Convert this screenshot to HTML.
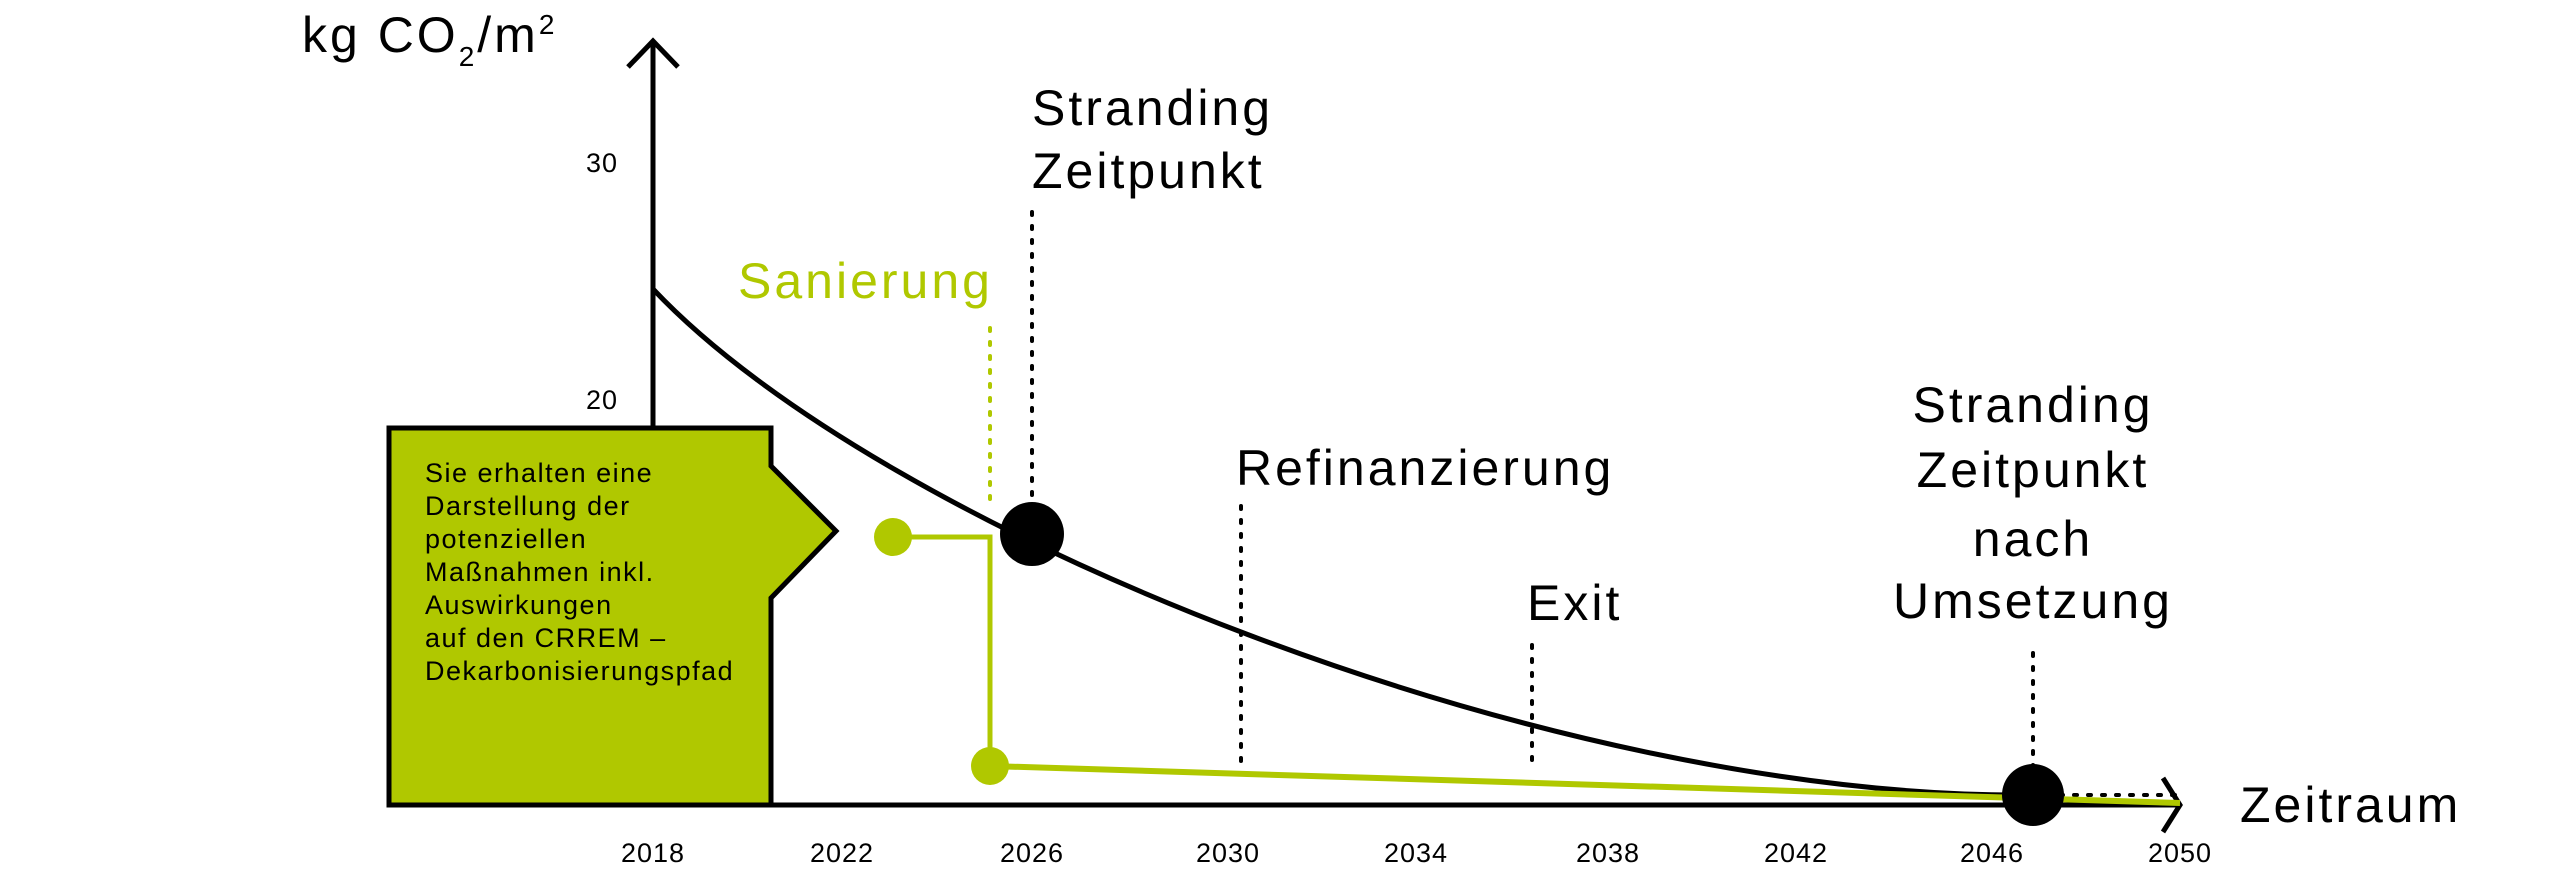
<!DOCTYPE html>
<html><head><meta charset="utf-8"><style>
html,body{margin:0;padding:0;background:#fff;}
body{width:2560px;height:865px;overflow:hidden;font-family:"Liberation Sans",sans-serif;}
</style></head><body>
<svg width="2560" height="865" viewBox="0 0 2560 865" xmlns="http://www.w3.org/2000/svg" font-family="Liberation Sans, sans-serif">
<path d="M389,428 H771 V466 L836,531 L771,598 V805 H389 Z" fill="#b0c800" stroke="#000" stroke-width="5"/>
<line x1="653" y1="41" x2="653" y2="428" stroke="#000" stroke-width="5"/>
<polyline points="628,67 653,41 678,67" fill="none" stroke="#000" stroke-width="5"/>
<line x1="771" y1="805" x2="2180" y2="805" stroke="#000" stroke-width="5"/>
<polyline points="2163,778 2180,805 2163,832" fill="none" stroke="#000" stroke-width="5"/>
<path d="M653,289 C880,530 1550,800 2033,795" fill="none" stroke="#000" stroke-width="5"/>
<g stroke="#000" stroke-width="4" stroke-dasharray="3,11" stroke-linecap="round">
<line x1="1032" y1="212" x2="1032" y2="500"/>
<line x1="1241" y1="506" x2="1241" y2="767"/>
<line x1="1532" y1="645" x2="1532" y2="767"/>
<line x1="2033" y1="653" x2="2033" y2="767"/>
<line x1="2060" y1="795" x2="2175" y2="795"/>
</g>
<line x1="990" y1="328" x2="990" y2="506" stroke="#b0c800" stroke-width="4" stroke-dasharray="3,11" stroke-linecap="round"/>
<polyline points="893,537 990,537 990,766" fill="none" stroke="#b0c800" stroke-width="5"/>
<line x1="990" y1="766" x2="2180" y2="803" stroke="#b0c800" stroke-width="6"/>
<circle cx="893" cy="537" r="19" fill="#b0c800"/>
<circle cx="990" cy="766" r="19" fill="#b0c800"/>
<circle cx="1032" cy="534" r="32" fill="#000"/>
<circle cx="2033" cy="795" r="31" fill="#000"/>
<g letter-spacing="3">
<text x="302" y="52" font-size="50" fill="#000">kg CO<tspan font-size="28" dy="14">2</tspan><tspan dy="-14">/m</tspan><tspan font-size="28" dy="-18">2</tspan></text>
<text x="1032" y="125" font-size="50">Stranding</text>
<text x="1032" y="188" font-size="50">Zeitpunkt</text>
<text x="738" y="298" font-size="50" fill="#b0c800">Sanierung</text>
<text x="1236" y="485" font-size="50">Refinanzierung</text>
<text x="1527" y="620" font-size="50">Exit</text>
<g font-size="50" text-anchor="middle">
<text x="2033" y="422">Stranding</text>
<text x="2033" y="487">Zeitpunkt</text>
<text x="2033" y="556">nach</text>
<text x="2033" y="618">Umsetzung</text>
</g>
<text x="2240" y="822" font-size="50">Zeitraum</text>
</g>
<text x="602" y="172" font-size="27" text-anchor="middle" letter-spacing="1">30</text>
<text x="602" y="409" font-size="27" text-anchor="middle" letter-spacing="1">20</text>
<g font-size="27" text-anchor="middle" letter-spacing="1">
<text x="653" y="862">2018</text><text x="842" y="862">2022</text><text x="1032" y="862">2026</text>
<text x="1228" y="862">2030</text><text x="1416" y="862">2034</text><text x="1608" y="862">2038</text>
<text x="1796" y="862">2042</text><text x="1992" y="862">2046</text><text x="2180" y="862">2050</text>
</g>
<g font-size="27" fill="#000" letter-spacing="1.5">
<text x="425" y="482">Sie erhalten eine</text>
<text x="425" y="515">Darstellung der</text>
<text x="425" y="548">potenziellen</text>
<text x="425" y="581">Maßnahmen inkl.</text>
<text x="425" y="614">Auswirkungen</text>
<text x="425" y="647">auf den CRREM –</text>
<text x="425" y="680">Dekarbonisierungspfad</text>
</g>
</svg>
</body></html>
